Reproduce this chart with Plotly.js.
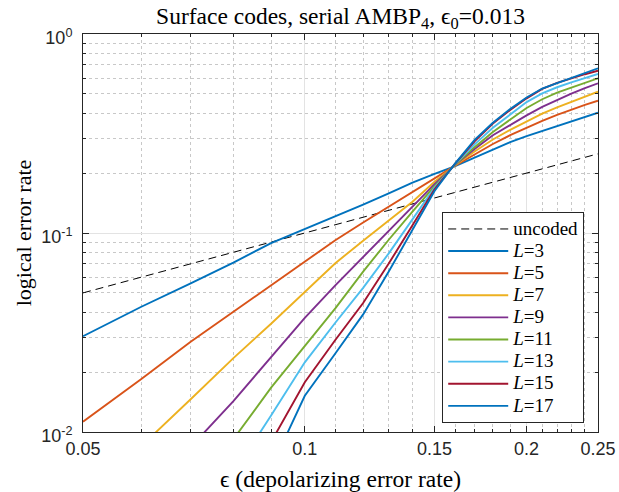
<!DOCTYPE html>
<html>
<head>
<meta charset="utf-8">
<script src="https://cdn.plot.ly/plotly-3.0.1.min.js"></script>
<style>html,body{margin:0;padding:0;background:#fff;} #chart{width:619px;height:492px;}</style>
</head>
<body>
<div id="chart"></div>
<script>
// depolarizing error rate samples
const eps = [0.05,0.06,0.07,0.08,0.09,0.10,0.11,0.12,0.13,0.14,0.15,0.16,0.17,0.18,0.19,0.20,0.21,0.22,0.23,0.24,0.25];
// uncoded error rate
const uncoded = [0.05,0.06,0.07,0.08,0.09,0.10,0.11,0.12,0.13,0.14,0.15,0.16,0.17,0.18,0.19,0.20,0.21,0.22,0.23,0.24,0.25];
// logical error rates by code size L
const L3  = [0.0303,0.0426,0.0558,0.071,0.089,0.1045,0.121,0.139,0.158,0.179,0.198,0.217,0.239,0.263,0.286,0.307,0.326,0.345,0.363,0.383,0.402];
const L5  = [0.01126,0.01845,0.0284,0.0402,0.0542,0.0718,0.092,0.113,0.136,0.161,0.188,0.218,0.248,0.28,0.31,0.338,0.366,0.392,0.417,0.44,0.462];
const L7  = [0.0047,0.0085,0.0146,0.0235,0.035,0.0505,0.0705,0.0915,0.1156,0.1437,0.181,0.219,0.257,0.295,0.33,0.365,0.398,0.428,0.457,0.485,0.513];
const L9  = [0.0023,0.0046,0.0084,0.0143,0.0239,0.0375,0.0545,0.0757,0.1028,0.1355,0.176,0.220,0.264,0.31,0.35,0.39,0.43,0.467,0.502,0.535,0.565];
const L11 = [0.0012,0.0026,0.0052,0.0092,0.0167,0.027,0.0418,0.064,0.0925,0.128,0.172,0.221,0.27,0.322,0.37,0.425,0.47,0.507,0.538,0.568,0.599];
const L13 = [0.0006,0.0014,0.0031,0.0062,0.0121,0.0224,0.0354,0.053,0.079,0.117,0.169,0.222,0.279,0.338,0.395,0.455,0.503,0.54,0.572,0.603,0.63];
const L15 = [0.0003,0.0008,0.0019,0.0042,0.0089,0.0178,0.029,0.0445,0.0702,0.1095,0.166,0.223,0.289,0.355,0.415,0.475,0.53,0.568,0.6,0.628,0.654];
const L17 = [0.0002,0.0005,0.0012,0.0029,0.0066,0.0152,0.0248,0.039,0.064,0.1036,0.1626,0.224,0.294,0.358,0.42,0.48,0.532,0.567,0.601,0.636,0.672];

const seriesLabels = ['3','5','7','9','11','13','15','17'];
const seriesData = [L3,L5,L7,L9,L11,L13,L15,L17];
const seriesColors = ['#0072BD','#D95319','#EDB120','#7E2F8E','#77AC30','#4DBEEE','#A2142F','#0072BD'];

const xTickVals = [0.05,0.1,0.15,0.2,0.25];
const xTickText = ['0.05','0.1','0.15','0.2','0.25'];
const xMinorVals = [0.06,0.07,0.08,0.09,0.11,0.12,0.13,0.14,0.16,0.17,0.18,0.19,0.21,0.22,0.23,0.24];
const yTickVals = [0.01,0.1,1];
const yTickText = ['10<sup>-2</sup>','10<sup>-1</sup>','10<sup>0</sup>'];
const yMinorVals = [0.02,0.03,0.04,0.05,0.06,0.07,0.08,0.09,0.2,0.3,0.4,0.5,0.6,0.7,0.8,0.9];

const serif = '"Liberation Serif", "DejaVu Serif", serif';
const sans = '"Liberation Sans", Arial, sans-serif';
const big = (s) => '<span style="font-size:19px">' + s + '</span>';

const traces = [{
  x: eps, y: uncoded, type: 'scatter', mode: 'lines', name: big('uncoded'),
  line: {color: '#000000', width: 1, dash: '8px,5px'}
}];
for (let i = 0; i < seriesData.length; i++) {
  traces.push({x: eps, y: seriesData[i], type: 'scatter', mode: 'lines',
    name: big('<i>L</i>=' + seriesLabels[i]),
    line: {color: seriesColors[i], width: 1.9}});
}

const axisCommon = {
  type: 'log', showline: true, linecolor: '#262626', linewidth: 1, mirror: 'allticks',
  ticks: 'inside', ticklen: 6, tickcolor: '#262626', tickwidth: 1,
  showgrid: true, gridcolor: '#e3e3e3', gridwidth: 1, zeroline: false,
  tickfont: {family: sans, size: 18, color: '#262626'}
};

const layout = {
  width: 619, height: 492,
  margin: {l: 83, r: 21, t: 34, b: 60},
  paper_bgcolor: '#ffffff', plot_bgcolor: '#ffffff',
  title: {text: 'Surface codes, serial AMBP<sub>4</sub>, ϵ<sub>0</sub>=0.013',
          xref: 'paper', x: 0.5, xanchor: 'center', yref: 'container', y: 0.968, yanchor: 'middle',
          font: {family: serif, size: 23.5, color: '#000000'}},
  xaxis: Object.assign({}, axisCommon, {
    range: [Math.log10(0.05), Math.log10(0.25)],
    tickmode: 'array', tickvals: xTickVals, ticktext: xTickText,
    minor: {tickmode: 'array', tickvals: xMinorVals, ticks: 'inside', ticklen: 3, tickcolor: '#262626',
            showgrid: true, gridcolor: '#c8c8c8', griddash: 'dot', gridwidth: 1},
    title: {text: 'ϵ (depolarizing error rate)', font: {family: serif, size: 23.5, color: '#000000'}, standoff: 16}
  }),
  yaxis: Object.assign({}, axisCommon, {
    range: [-2, 0],
    tickmode: 'array', tickvals: yTickVals, ticktext: yTickText,
    ticklabelstandoff: 6, ticklabelshift: 4,
    minor: {tickmode: 'array', tickvals: yMinorVals, ticks: 'inside', ticklen: 3, tickcolor: '#262626',
            showgrid: true, gridcolor: '#c8c8c8', griddash: 'dot', gridwidth: 1},
    title: {text: 'logical error rate', font: {family: serif, size: 22, color: '#000000'}, standoff: 3}
  }),
  showlegend: true,
  legend: {x: 0.6975, y: 0.553, xanchor: 'left', yanchor: 'top',
           bgcolor: '#ffffff', bordercolor: '#262626', borderwidth: 1,
           font: {family: serif, size: 14.7, color: '#000000'},
           itemwidth: 60, tracegroupgap: 0}
};

Plotly.newPlot('chart', traces, layout, {displayModeBar: false, staticPlot: true});
</script>
</body>
</html>
